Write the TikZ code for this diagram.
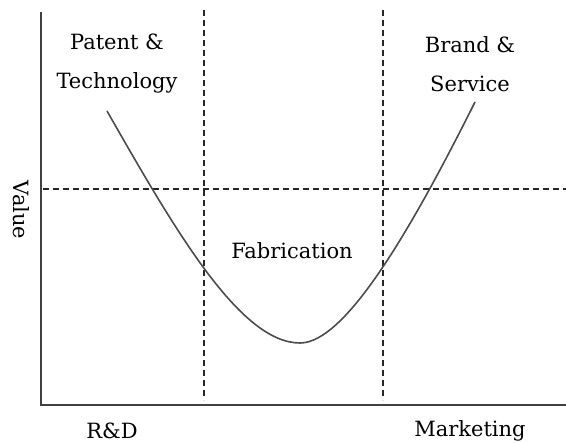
\documentclass[tikz,border=0pt]{standalone}
\usepackage{fontspec}
\setmainfont{DejaVu Serif}
\tikzset{
  lbl/.style={font=\fontsize{21}{39}\selectfont, align=center, inner sep=0pt},
  grid/.style={line width=1.4pt, dash pattern=on 6pt off 4pt, black!85},
}
\begin{document}
\begin{tikzpicture}[x=1pt, y=-1pt]
\useasboundingbox (0,0) rectangle (566,443);
% axes
\draw[line width=2pt, black!75](41,12)--(41,405)--(566,405);
% section lines
\foreach \x in {204,383}
{
    \draw[grid](\x,10)--(\x,400);
}
\draw[grid](43,189)--(566,189);

% the value curve
\draw[line width=1.6pt, black!70](107,111)
  .. controls (175,230) and (240,343) .. (300,343)
  .. controls (345,343) and (410,232) .. (475,102);

\node[lbl] (pat) at (117,64) {Patent \&\\Technology};
\node[lbl] (brd) at (470,64) {Brand \&\\Service};
\node[lbl] (fab) at (292,251) {Fabrication};
\node[lbl] (rnd) at (112,431) {R\&D};
\node[lbl] (mkt) at (470,431) {Marketing};
\node[lbl, rotate=-90] (val) at (21,210) {Value};
\end{tikzpicture}
\end{document}
